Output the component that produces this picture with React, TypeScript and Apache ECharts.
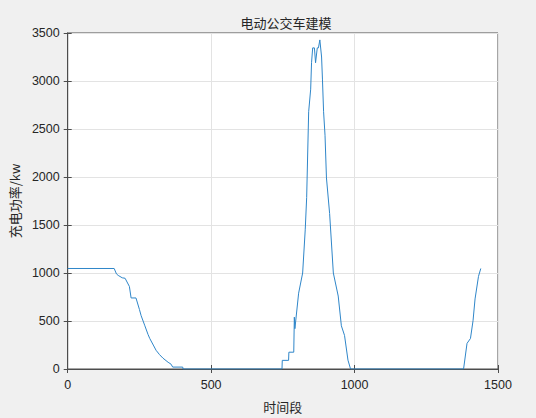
import React, { useEffect, useRef } from "react";
import * as echarts from "echarts";

const timeSlots: number[] = [
  0, 162, 170, 176, 190, 200, 215, 221, 238, 250, 256, 269, 280, 286, 300, 308, 320, 332, 350, 360, 366, 401, 402,
  747, 748, 770, 771, 788, 790, 792, 805, 819, 828, 833, 840, 847, 850, 854,
  860, 864, 870, 874, 879, 885, 888, 892, 897, 902, 913, 926, 943, 954, 965,
  977, 986, 1380, 1392, 1404, 1413, 1420, 1432, 1440,
];
const chargePower: number[] = [
  1047, 1047, 990, 975, 950, 945, 860, 740, 740, 620, 555, 450, 360, 318, 240, 195, 150, 113, 70, 51, 20, 20, 0,
  0, 90, 90, 175, 175, 540, 420, 790, 1000, 1450, 1786, 2680, 2915, 3190, 3345,
  3345, 3190, 3345, 3345, 3428, 3250, 3020, 2680, 2435, 1990, 1620, 1000, 760, 450, 350,
  92, 0, 0, 267, 318, 503, 730, 965, 1047,
];
const xTicks = [0, 500, 1000, 1500];
const yTicks = [0, 500, 1000, 1500, 2000, 2500, 3000, 3500];

const titleText = "电动公交车建模";
const xName = "时间段";
const yName = "充电功率/kw";

export default function App() {
  const ref = useRef<HTMLDivElement>(null);
  useEffect(() => {
    if (!ref.current) return;
    const chart = echarts.init(ref.current, null, { renderer: "svg" });
    const font = "Liberation Sans, Arial, sans-serif";
    const cjk = "Noto Sans CJK SC, sans-serif";
    const axisColor = "#4d4d4d";
    const data = timeSlots.map((t, i) => [t, chargePower[i]]);
    chart.setOption({
      animation: false,
      backgroundColor: "#f0f0f0",
      title: {
        text: titleText,
        left: 281,
        textAlign: "center",
        top: 11,
        textStyle: { fontFamily: cjk, fontSize: 13, fontWeight: "normal", color: "#262626" },
      },
      grid: {
        left: 64,
        right: 38,
        top: 33,
        bottom: 44,
        show: true,
        backgroundColor: "#ffffff",
        borderColor: axisColor,
        borderWidth: 1,
      },
      xAxis: [
        {
          type: "value",
          min: 0,
          max: 1500,
          interval: 500,
          name: xName,
          nameLocation: "middle",
          nameGap: 31,
          nameTextStyle: { fontFamily: cjk, fontSize: 13, color: "#262626" },
          axisLine: { show: true, lineStyle: { color: axisColor } },
          axisTick: { show: true, inside: true, length: 4, lineStyle: { color: axisColor } },
          axisLabel: {
            fontFamily: font,
            fontSize: 12.5,
            color: "#262626",
            margin: 9,
            formatter: (v: number) => (xTicks.includes(v) ? String(v) : ""),
          },
          splitLine: { show: true, lineStyle: { color: "#e3e3e3" } },
        },
        {
          type: "value",
          position: "top",
          min: 0,
          max: 1500,
          interval: 500,
          axisLine: { show: true, lineStyle: { color: axisColor } },
          axisTick: { show: true, inside: true, length: 4, lineStyle: { color: axisColor } },
          axisLabel: { show: false },
          splitLine: { show: false },
        },
      ],
      yAxis: [
        {
          type: "value",
          min: 0,
          max: 3500,
          interval: 500,
          name: yName,
          nameLocation: "middle",
          nameGap: 42,
          nameRotate: 90,
          nameTextStyle: { fontFamily: cjk, fontSize: 13, color: "#262626" },
          axisLine: { show: true, lineStyle: { color: axisColor } },
          axisTick: { show: true, inside: true, length: 4, lineStyle: { color: axisColor } },
          axisLabel: {
            fontFamily: font,
            fontSize: 12.5,
            color: "#262626",
            margin: 8,
            formatter: (v: number) => (yTicks.includes(v) ? String(v) : ""),
          },
          splitLine: { show: true, lineStyle: { color: "#e3e3e3" } },
        },
        {
          type: "value",
          position: "right",
          min: 0,
          max: 3500,
          interval: 500,
          axisLine: { show: true, lineStyle: { color: axisColor } },
          axisTick: { show: true, inside: true, length: 4, lineStyle: { color: axisColor } },
          axisLabel: { show: false },
          splitLine: { show: false },
        },
      ],
      series: [
        {
          type: "line",
          data,
          showSymbol: false,
          symbol: "none",
          lineStyle: { color: "#2f86c9", width: 1 },
          itemStyle: { color: "#2f86c9" },
        },
      ],
    });
    return () => chart.dispose();
  }, []);
  return (
    <div
      ref={ref}
      style={{ position: "fixed", left: 0, top: 0, width: 536, height: 418 }}
    />
  );
}
